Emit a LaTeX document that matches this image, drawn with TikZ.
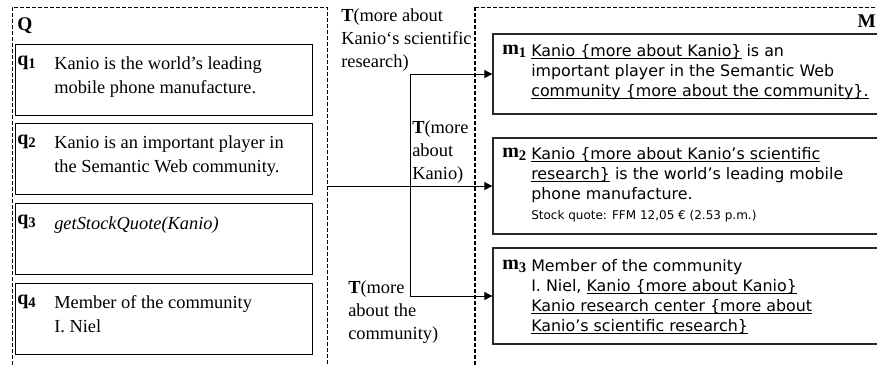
\documentclass[tikz,border=0pt]{standalone}
\usepackage{fontspec}
\setmainfont{Liberation Serif}
\newfontfamily\verdana{DejaVu Sans}
\usetikzlibrary{arrows.meta}
\newsavebox\lnkbox
\newcommand{\lnk}[1]{\sbox\lnkbox{#1}\rlap{\rule[-2.2pt]{\wd\lnkbox}{0.8pt}}\usebox\lnkbox}
\newcommand{\idx}[1]{\raisebox{-2.6pt}{\fontsize{11}{12}\selectfont#1}}
\definecolor{BoxGray}{RGB}{40,40,40}
\tikzset{
  qframe/.style={line width=0.6pt,dash pattern=on 3pt off 1.5pt},
  mframe/.style={line width=1.4pt,dash pattern=on 3pt off 1.5pt},
  qbox/.style={draw,line width=0.7pt,minimum width=222.75pt,
    minimum height=53.25pt,inner sep=0pt},
  mbox/.style={draw=BoxGray,line width=1pt,minimum width=290.25pt,inner sep=0pt},
  head/.style={anchor=base west,inner sep=0pt,
    font=\fontsize{14.5}{16}\selectfont\bfseries},
  qlabel/.style={anchor=base west,inner sep=0pt,
    font=\fontsize{15}{16}\selectfont\bfseries},
  qtext/.style={anchor=base west,align=left,inner sep=0pt,
    font=\fontsize{13.8}{17.5}\selectfont},
  mtext/.style={anchor=base west,align=left,inner sep=0pt,
    font=\verdana\fontsize{11.9}{15}\selectfont},
  link/.style={-{Triangle[length=6pt,width=6pt]},line width=0.75pt}
}

\begin{document}
\begin{tikzpicture}[x=0.75pt,y=-0.75pt]
  \useasboundingbox (0,0) rectangle (877,365);
  \clip (0,0) rectangle (877,365);
  \draw[qframe] (12,365) -- (12,7) -- (327,7) -- (327,365);
  \draw[mframe] (475,365) -- (475,7);
  \draw[qframe] (475,7) -- (877,7);
  \node[head] (Qhead) at (17,30) {Q};
  \node[head,anchor=base east] (Mhead) at (876,27) {M};

  \node[qbox] (q1) at (163.5,79.5) {};
  \node[qlabel] (q1lab) at (17,65) {q\idx{1}};
  \node[qtext] (q1txt) at (54,93.3) {Kanio is the world's leading\\mobile phone manufacture.};
  \node[qbox] (q2) at (163.5,158.5) {};
  \node[qlabel] (q2lab) at (17,144) {q\idx{2}};
  \node[qtext] (q2txt) at (54,172.3) {Kanio is an important player in\\the Semantic Web community.};
  \node[qbox] (q3) at (163.5,238.5) {};
  \node[qlabel] (q3lab) at (17,224) {q\idx{3}};
  \node[qtext] (q3txt) at (54,229) {\textit{getStockQuote(Kanio)}};
  \node[qbox] (q4) at (163.5,318.5) {};
  \node[qlabel] (q4lab) at (17,304) {q\idx{4}};
  \node[qtext] (q4txt) at (54,332.3) {Member of the community\\I. Niel};

  \node[mbox,minimum height=60pt] (m1) at (686.5,74) {};
  \node[qlabel] (m1lab) at (502,54) {m\idx{1}};
  \node[mtext] (m1txt) at (531,96) {\lnk{Kanio \{more about Kanio\}} is an\\
    important player in the Semantic Web\\
    \lnk{community \{more about the community\}.}};
  \node[mbox,minimum height=72pt] (m2) at (686.5,186) {};
  \node[qlabel] (m2lab) at (502,157) {m\idx{2}};
  \node[mtext] (m2txt) at (531,219) {\lnk{Kanio \{more about Kanio’s scientific}\\
    \lnk{research\}} is the world’s leading mobile\\
    phone manufacture.\\
    {\fontsize{9}{12}\selectfont Stock quote: FFM 12,05 € (2.53 p.m.)}};
  \node[mbox,minimum height=72pt] (m3) at (686.5,296) {};
  \node[qlabel] (m3lab) at (502,269) {m\idx{3}};
  \node[mtext] (m3txt) at (531,331) {Member of the community\\
    I. Niel, \lnk{Kanio \{more about Kanio\}}\\
    \lnk{Kanio research center \{more about}\\
    \lnk{Kanio’s scientific research\}}};

  \node[qtext] (t1) at (341,67.7) {\textbf{T}(more about\\Kanio‘s scientific\\research)};
  \node[qtext] (t2) at (412,179.7) {\textbf{T}(more\\about\\Kanio)};
  \node[qtext] (t3) at (348,339.7) {\textbf{T}(more\\about the\\community)};

  \coordinate (qout) at (327,186);
  \coordinate (fork) at (410,186);
  \draw[link] (qout) -- (m2.west);
  \draw[link] (fork) |- (m1.west);
  \draw[link] (fork) |- (m3.west);
\end{tikzpicture}
\end{document}
